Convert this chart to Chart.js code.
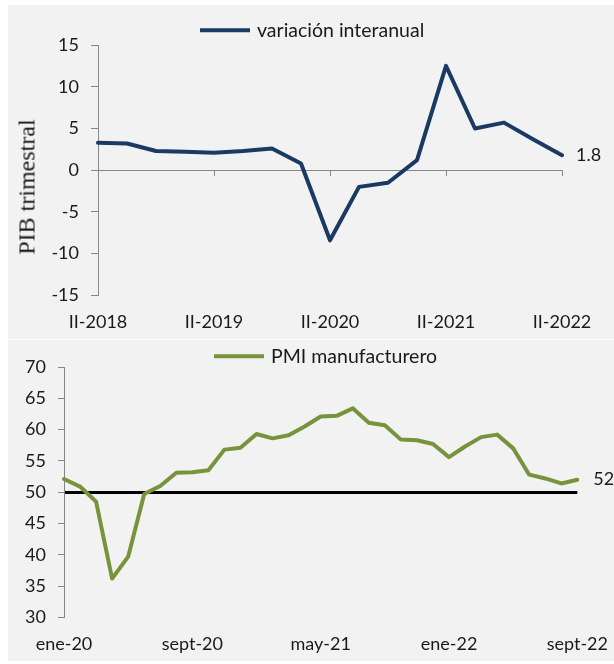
<!DOCTYPE html>
<html><head><meta charset="utf-8">
<script src="https://cdn.jsdelivr.net/npm/chart.js@4/dist/chart.umd.min.js"></script>
<style>
html,body{margin:0;padding:0;background:#fff;width:614px;height:664px;overflow:hidden;font-family:Lato,sans-serif;}
.panel{position:absolute;background:#f2f2f2;}
#p1{left:8px;top:5px;width:606px;height:334px;}
#p2{left:8px;top:340px;width:606px;height:321px;}
canvas{position:absolute;left:0;top:0;}
.legend{position:absolute;font-size:19.5px;color:#1a1a1a;white-space:nowrap;display:flex;align-items:center;transform:translateY(-50%);line-height:1;}
.legend .sw{display:inline-block;width:50px;height:4px;margin-right:7px;}
.ytitle{position:absolute;left:19px;top:182px;font-family:"Liberation Serif",serif;font-size:24px;color:#1a1a1a;white-space:nowrap;transform:translate(-50%,-50%) rotate(-90deg);}
</style></head>
<body>
<div class="panel" id="p1">
  <canvas id="c1" width="606" height="334"></canvas>
  <div class="legend" style="left:192px;top:25px;"><span class="sw" style="background:#1a3a63"></span>variación interanual</div>
  <div class="ytitle">PIB trimestral</div>
</div>
<div class="panel" id="p2">
  <canvas id="c2" width="616" height="321"></canvas>
  <div class="legend" style="left:206px;top:16px;"><span class="sw" style="background:#77933c"></span>PMI manufacturero</div>
</div>
<script>
// ---- data ----
const quarters = ["II-2018","III-2018","IV-2018","I-2019","II-2019","III-2019","IV-2019","I-2020","II-2020","III-2020","IV-2020","I-2021","II-2021","III-2021","IV-2021","I-2022","II-2022"];
const pibYoY = [3.3, 3.2, 2.3, 2.2, 2.1, 2.3, 2.6, 0.8, -8.4, -2.0, -1.5, 1.2, 12.5, 5.0, 5.7, 3.7, 1.8];
const months = ["ene-20","feb-20","mar-20","abr-20","may-20","jun-20","jul-20","ago-20","sept-20","oct-20","nov-20","dic-20",
  "ene-21","feb-21","mar-21","abr-21","may-21","jun-21","jul-21","ago-21","sept-21","oct-21","nov-21","dic-21",
  "ene-22","feb-22","mar-22","abr-22","may-22","jun-22","jul-22","ago-22","sept-22"];
const pmi = [52.1, 50.9, 48.5, 36.2, 39.7, 49.7, 51.0, 53.1, 53.2, 53.5, 56.8, 57.1, 59.3, 58.6, 59.1, 60.5,
  62.1, 62.2, 63.4, 61.1, 60.7, 58.4, 58.3, 57.7, 55.6, 57.3, 58.8, 59.2, 57.0, 52.8, 52.2, 51.4, 52.0];
const pibTicks = [-15, -10, -5, 0, 5, 10, 15];
const pmiTicks = [30, 35, 40, 45, 50, 55, 60, 65, 70];
const pmiThreshold = 50;

Chart.defaults.font.family = 'Lato, sans-serif';
Chart.defaults.font.size = 18;
Chart.defaults.color = '#1a1a1a';
const AXIS = '#868686';

function endLabel(offset){
  return {
    id:'endLabel',
    afterDatasetsDraw(chart){
      const meta = chart.getDatasetMeta(0);
      const ds = chart.data.datasets[0].data;
      const pt = meta.data[ds.length-1];
      const ctx = chart.ctx;
      ctx.save();
      ctx.font = '18px Lato, sans-serif';
      ctx.fillStyle = '#1a1a1a';
      ctx.textBaseline = 'middle';
      ctx.textAlign = 'left';
      ctx.fillText(String(ds[ds.length-1]), pt.x + offset, pt.y);
      ctx.restore();
    }
  };
}

const zeroTicks = {
  id:'zeroTicks',
  beforeDatasetsDraw(chart){
    const x = chart.scales.x, y = chart.scales.y, ctx = chart.ctx;
    const y0 = y.getPixelForValue(0);
    ctx.save();
    ctx.strokeStyle = AXIS; ctx.lineWidth = 1;
    for (let i = 0; i < quarters.length; i += 4){
      const px = Math.round(x.getPixelForValue(i)) + 0.5;
      ctx.beginPath(); ctx.moveTo(px, y0); ctx.lineTo(px, y0 + 6); ctx.stroke();
    }
    ctx.restore();
  }
};

new Chart(document.getElementById('c1'), {
  type:'line',
  data:{labels:quarters, datasets:[{label:'variación interanual', data:pibYoY, borderColor:'#1a3a63', borderWidth:4, pointRadius:0, tension:0, borderJoinStyle:'round', borderCapStyle:'round'}]},
  options:{
    responsive:false, animation:false, devicePixelRatio:1,
    layout:{padding:{top:40, right:52, bottom:-10, left:0}},
    plugins:{legend:{display:false}, tooltip:{enabled:false}},
    scales:{
      x:{offset:false, grid:{display:false, drawTicks:false}, border:{display:false},
         ticks:{padding:16, autoSkip:false, maxRotation:0, minRotation:0,
           callback:(v,i)=> i%4===0 ? quarters[i] : ''}},
      y:{min:-15, max:15, afterFit:s=>{s.width=90;},
         afterBuildTicks:s=>{s.ticks = pibTicks.map(v=>({value:v}));},
         border:{display:true, color:AXIS, width:1},
         grid:{drawOnChartArea:true, drawTicks:true, tickLength:7, tickColor:AXIS, tickWidth:1,
           color:c=> c.tick && c.tick.value===0 ? AXIS : 'rgba(0,0,0,0)', lineWidth:1},
         ticks:{padding:12}}
    }
  },
  plugins:[zeroTicks, endLabel(14)]
});

new Chart(document.getElementById('c2'), {
  type:'line',
  data:{labels:months, datasets:[{label:'PMI manufacturero', data:pmi, borderColor:'#77933c', borderWidth:4, pointRadius:0, tension:0, borderJoinStyle:'round', borderCapStyle:'round'}]},
  options:{
    responsive:false, animation:false, devicePixelRatio:1,
    layout:{padding:{top:27, right:37, bottom:-10, left:0}},
    plugins:{legend:{display:false}, tooltip:{enabled:false}},
    scales:{
      x:{offset:false, grid:{display:false, drawTicks:false}, border:{display:false},
         ticks:{padding:16, autoSkip:false, maxRotation:0, minRotation:0,
           callback:(v,i)=> i%8===0 ? months[i] : ''}},
      y:{min:30, max:70, afterFit:s=>{s.width=56;},
         afterBuildTicks:s=>{s.ticks = pmiTicks.map(v=>({value:v}));},
         border:{display:true, color:AXIS, width:1},
         grid:{drawOnChartArea:true, drawTicks:true, tickLength:6, tickColor:AXIS, tickWidth:1,
           color:c=> c.tick && c.tick.value===pmiThreshold ? '#000' : 'rgba(0,0,0,0)',
           lineWidth:c=> c.tick && c.tick.value===pmiThreshold ? 3 : 1},
         ticks:{padding:12}}
    }
  },
  plugins:[endLabel(16)]
});
</script>
</body></html>
